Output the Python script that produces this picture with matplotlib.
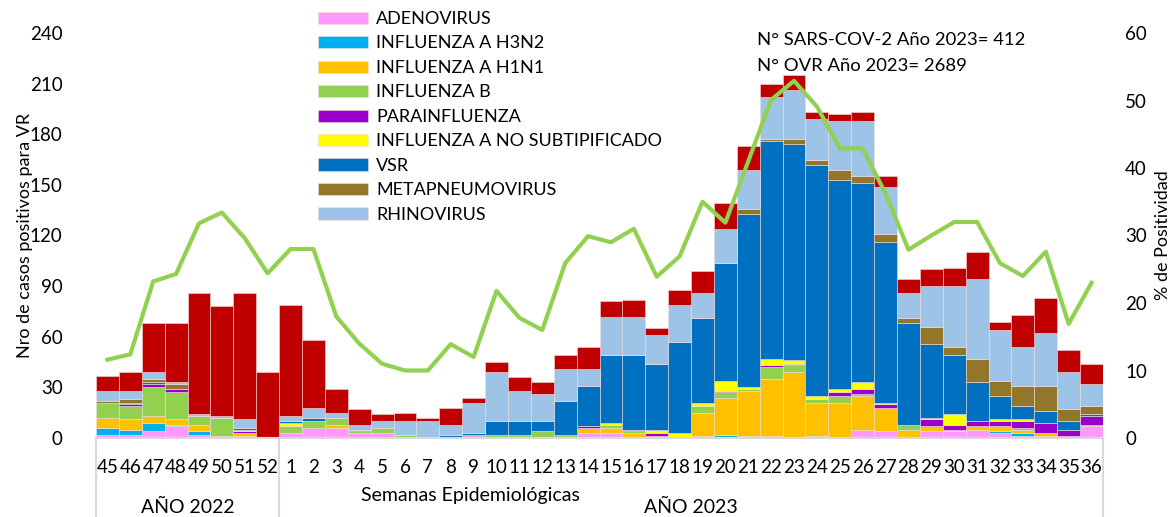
import numpy as np
import matplotlib
matplotlib.use("Agg")
import matplotlib.pyplot as plt

plt.rcParams['font.family'] = ['Lato', 'DejaVu Sans']

semanas = ['45', '46', '47', '48', '49', '50', '51', '52'] + [str(i) for i in range(1, 37)]

adeno = [2, 2, 4, 7, 2, 1, 0, 0, 3, 6, 6, 3, 3, 0, 0, 0, 0, 0, 0, 0, 0, 3, 3, 0, 0, 0,
         1, 0, 1, 1, 0, 1, 0, 5, 4, 0, 4, 4, 5, 3, 1, 1, 0, 7]
h3n2 = [4, 3, 5, 1, 2, 0, 1, 0, 0, 0, 0, 0, 0, 0, 0, 0, 0, 0, 0, 0, 0, 0, 0, 0, 0, 0,
        0, 2, 0, 0, 0, 0, 0, 0, 0, 0, 0, 0, 0, 1, 2, 0, 0, 0]
h1n1 = [6, 6, 4, 3, 4, 0, 2, 0, 0, 0, 2, 0, 0, 0, 0, 0, 0, 0, 0, 0, 0, 3, 3, 3, 0, 0,
        14, 22, 27, 34, 39, 20, 21, 20, 14, 5, 3, 1, 2, 3, 2, 2, 0, 0]
flu_b = [9, 8, 17, 16, 5, 11, 0, 0, 4, 4, 4, 1, 3, 2, 0, 0, 1, 2, 2, 4, 2, 0, 2, 1, 1, 0,
         4, 3, 1, 7, 4, 2, 4, 1, 0, 3, 0, 0, 0, 0, 1, 0, 1, 1]
parainf = [0, 1, 2, 2, 0, 0, 1, 0, 0, 0, 0, 1, 0, 0, 0, 0, 1, 0, 0, 0, 0, 1, 0, 1, 2, 0,
           0, 1, 0, 1, 1, 0, 2, 3, 2, 0, 4, 3, 3, 3, 4, 6, 4, 5]
flu_a_ns = [0, 0, 0, 0, 0, 0, 1, 0, 2, 0, 0, 0, 0, 0, 0, 0, 0, 0, 0, 0, 0, 0, 1, 0, 2, 3,
            2, 6, 1, 4, 2, 2, 2, 4, 1, 0, 1, 6, 0, 1, 1, 0, 0, 0]
vsr = [0, 1, 1, 0, 0, 0, 1, 0, 1, 2, 0, 0, 0, 0, 0, 2, 1, 8, 8, 6, 20, 24, 40, 44, 39, 54,
       50, 70, 103, 129, 128, 137, 124, 118, 95, 60, 44, 35, 23, 14, 8, 7, 5, 1]
metapneumo = [1, 2, 2, 3, 0, 0, 0, 0, 0, 0, 0, 0, 0, 0, 0, 0, 0, 0, 0, 0, 0, 0, 0, 0, 0, 0,
              0, 0, 3, 1, 3, 3, 6, 4, 5, 3, 10, 5, 14, 9, 12, 15, 7, 5]
rhino = [6, 5, 4, 1, 1, 1, 5, 0, 3, 6, 3, 3, 4, 8, 10, 6, 18, 29, 18, 16, 19, 10, 23, 23, 17, 22,
         15, 20, 23, 25, 29, 24, 29, 33, 28, 15, 24, 36, 47, 30, 23, 31, 22, 13]
sars = [9, 11, 29, 35, 72, 65, 75, 39, 66, 40, 14, 9, 4, 5, 2, 10, 3, 6, 8, 7, 8, 13, 9, 10, 4, 9,
        13, 15, 14, 8, 9, 4, 4, 5, 6, 8, 10, 11, 16, 5, 19, 21, 13, 12]

positividad = [11.6, 12.4, 23.2, 24.3, 31.8, 33.4, 29.6, 24.4, 28.0, 28.0, 18.0, 14.0, 11.0, 10.0,
               10.0, 13.9, 12.0, 21.8, 17.8, 16.0, 25.9, 29.9, 29.0, 31.0, 23.9, 26.9, 35.0, 31.9,
               41.0, 50.1, 52.9, 49.1, 42.9, 42.9, 36.2, 27.9, 30.0, 32.0, 32.0, 25.9, 24.0, 27.6,
               16.9, 23.0]

series = [
    ('ADENOVIRUS', adeno, '#FF99FF'),
    ('INFLUENZA A H3N2', h3n2, '#00B0F0'),
    ('INFLUENZA A H1N1', h1n1, '#FFC000'),
    ('INFLUENZA B', flu_b, '#92D050'),
    ('PARAINFLUENZA', parainf, '#9900CC'),
    ('INFLUENZA A NO SUBTIPIFICADO', flu_a_ns, '#FFFF00'),
    ('VSR', vsr, '#0070C0'),
    ('METAPNEUMOVIRUS', metapneumo, '#937629'),
    ('RHINOVIRUS', rhino, '#9DC3E6'),
    ('SARS-CoV-2', sars, '#C00000'),
]

fig = plt.figure(figsize=(11.73, 5.17), dpi=100)
ax = fig.add_axes([96 / 1173, 79 / 517, 1007 / 1173, 405 / 517])

x = np.arange(len(semanas))
bottom = np.zeros(len(semanas))
handles = []
for nombre, vals, col in series:
    b = ax.bar(x, vals, width=1.0, bottom=bottom, color=col, edgecolor='#F2DCDB',
               linewidth=0.4, label=nombre)
    bottom += np.array(vals)
    if nombre != 'SARS-CoV-2':
        handles.append(b)

ax.set_xlim(-0.5, len(semanas) - 0.5)
ax.set_ylim(0, 240)
ax.set_yticks(range(0, 241, 30))
ax.set_xticks(x)
ax.set_xticklabels(semanas)
ax.tick_params(axis='y', length=0, pad=24, labelsize=13.5)
ax.tick_params(axis='x', length=0, pad=15, labelsize=13.5)
for s in ['top', 'right', 'left']:
    ax.spines[s].set_visible(False)
ax.spines['bottom'].set_color('#D9D9D9')
ax.spines['bottom'].set_linewidth(1.5)
ax.set_ylabel('Nro de casos positivos para VR', fontsize=13, labelpad=-2)

ax2 = ax.twinx()
ax2.plot(x, positividad, color='#92D050', linewidth=3, zorder=5)
ax2.set_ylim(0, 60)
ax2.set_yticks(range(0, 61, 10))
ax2.tick_params(axis='y', length=0, pad=16, labelsize=13.5)
for s in ['top', 'right', 'left', 'bottom']:
    ax2.spines[s].set_visible(False)
ax2.set_ylabel('% de Positividad', fontsize=13, labelpad=6)

# separadores de años bajo el eje
for xs in [-0.5, 7.5, len(semanas) - 0.5]:
    ax.plot([xs, xs], [0, -0.2], transform=ax.get_xaxis_transform(), color='#D9D9D9',
            linewidth=1.5, clip_on=False)
ax.text(3.5, -0.172, 'AÑO 2022', transform=ax.get_xaxis_transform(), ha='center',
        va='center', fontsize=14)
ax.text(25.5, -0.172, 'AÑO 2023', transform=ax.get_xaxis_transform(), ha='center',
        va='center', fontsize=14)
ax.text(15.85, -0.142, 'Semanas Epidemiológicas', transform=ax.get_xaxis_transform(),
        ha='center', va='center', fontsize=14)

fig.text(757 / 1173, 1 - 40 / 517, 'N° SARS-COV-2 Año 2023= 412', fontsize=13.3, va='center')
fig.text(757 / 1173, 1 - 66 / 517, 'N° OVR Año 2023= 2689', fontsize=13.3, va='center')

ax.legend(handles=handles, loc='upper left', bbox_to_anchor=(318 / 1173, 1 - 11 / 517),
          bbox_transform=fig.transFigure, frameon=False, fontsize=13, borderpad=0,
          borderaxespad=0, handlelength=2.77, handleheight=0.66, labelspacing=0.47,
          handletextpad=0.45)

fig.savefig('out.png', dpi=100)
